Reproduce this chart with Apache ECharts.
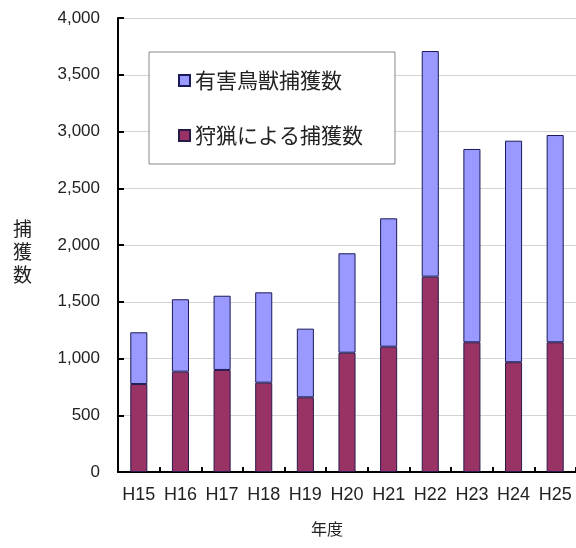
<!DOCTYPE html>
<html>
<head>
<meta charset="utf-8">
<script src="https://cdn.jsdelivr.net/npm/echarts@6/dist/echarts.min.js"></script>
<style>
html,body{margin:0;padding:0;background:#fff;}
#c{width:576px;height:548px;}
</style>
</head>
<body>
<div id="c"></div>
<script>
var categories = ['H15','H16','H17','H18','H19','H20','H21','H22','H23','H24','H25'];
var huntingCaptures = [775, 884, 899, 787, 658, 1051, 1104, 1721, 1143, 967, 1143];
var pestCaptures = [456, 638, 654, 796, 605, 876, 1131, 1988, 1703, 1952, 1826];
var yTicks = [0, 500, 1000, 1500, 2000, 2500, 3000, 3500, 4000];
var yAxisTitle = '捕\n獲\n数';
var xAxisTitle = '年度';

var cjk = '"Noto Sans CJK JP", "Liberation Sans", sans-serif';
var latin = '"Liberation Sans", Arial, sans-serif';

var chart = echarts.init(document.getElementById('c'));
chart.setOption({
  animation: false,
  backgroundColor: '#fff',
  grid: {left: 118, top: 18, right: 0, bottom: 76, containLabel: false},
  graphic: [{
    type: 'text',
    left: 13, top: 217,
    style: {text: yAxisTitle, font: '19px ' + cjk, fill: '#222', lineHeight: 23}
  }],
  legend: {
    orient: 'vertical',
    left: 149, top: 52,
    data: ['有害鳥獣捕獲数', '狩猟による捕獲数'],
    icon: 'rect',
    itemWidth: 11, itemHeight: 11,
    itemGap: 34,
    padding: [18, 32, 18, 29],
    borderColor: '#888',
    borderWidth: 1,
    backgroundColor: '#fff',
    textStyle: {fontFamily: cjk, fontSize: 21, color: '#222'}
  },
  xAxis: {
    type: 'category',
    data: categories,
    name: xAxisTitle,
    nameLocation: 'middle',
    nameGap: 49,
    nameTextStyle: {fontFamily: cjk, fontSize: 16, color: '#222', padding: [0, 40, 0, 0]},
    axisLine: {lineStyle: {color: '#000', width: 2}},
    axisTick: {show: true, inside: true, length: 5, lineStyle: {color: '#000', width: 2}},
    axisLabel: {fontFamily: latin, fontSize: 18, color: '#222', margin: 14, interval: 0, hideOverlap: false},
    splitLine: {show: false}
  },
  yAxis: {
    type: 'value',
    min: yTicks[0],
    max: yTicks[yTicks.length - 1],
    interval: 500,
    axisLine: {show: true, lineStyle: {color: '#000', width: 2}},
    axisTick: {show: true, inside: true, length: 6, lineStyle: {color: '#000', width: 2}},
    axisLabel: {
      fontFamily: latin, fontSize: 17, color: '#222', margin: 18,
      formatter: function (v) { return v.toLocaleString('en-US'); }
    },
    splitLine: {show: true, lineStyle: {color: '#d4d4d4', width: 1}}
  },
  series: [
    {
      name: '狩猟による捕獲数',
      type: 'bar',
      stack: 'total',
      barWidth: '41%',
      data: huntingCaptures,
      itemStyle: {color: '#993366', borderColor: '#2a1a4a', borderWidth: 1}
    },
    {
      name: '有害鳥獣捕獲数',
      type: 'bar',
      stack: 'total',
      barWidth: '41%',
      data: pestCaptures,
      itemStyle: {color: '#9999ff', borderColor: '#1a1a5a', borderWidth: 1}
    }
  ]
});
</script>
</body>
</html>
